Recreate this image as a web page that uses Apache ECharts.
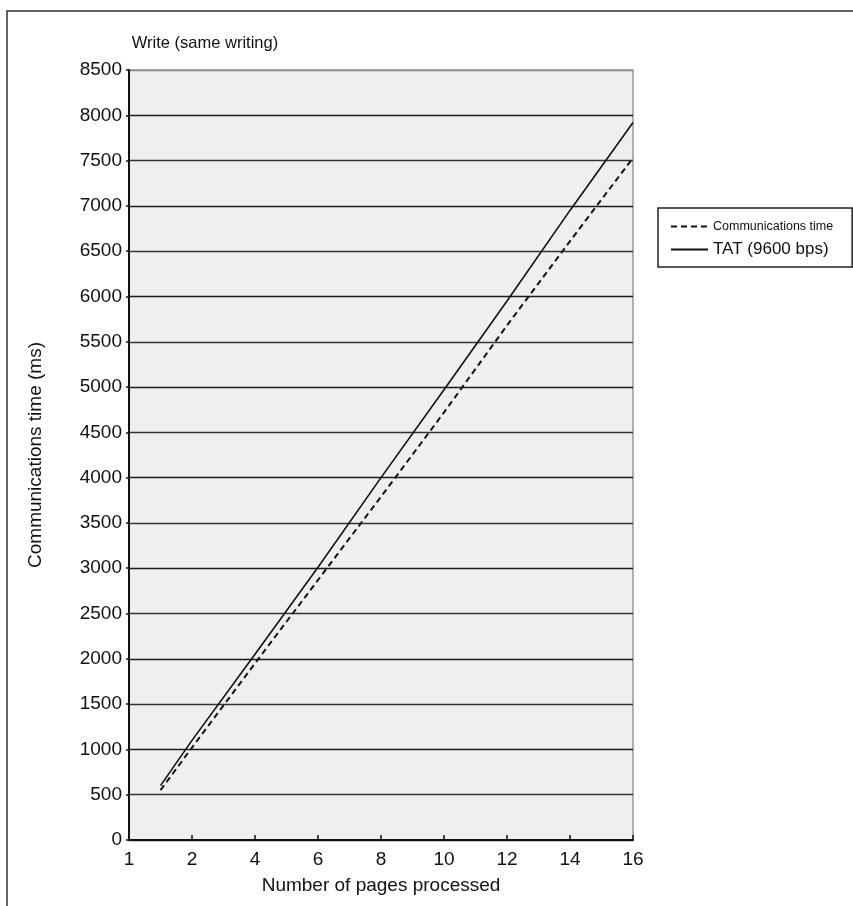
<!DOCTYPE html>
<html>
<head>
<meta charset="utf-8">
<script src="https://cdn.jsdelivr.net/npm/echarts@6/dist/echarts.min.js"></script>
<style>
html,body{margin:0;padding:0;background:#fff;}
#chart{width:853px;height:906px;}
</style>
</head>
<body>
<div id="chart"></div>
<script>
// Data
var pages = [1, 2, 4, 6, 8, 10, 12, 14, 16];
var commTime = [550, 1020, 1950, 2870, 3790, 4720, 5680, 6610, 7530];
var tatTime = [600, 1100, 2050, 3010, 4000, 4970, 5950, 6950, 7920];
var xTickLabels = ['1', '2', '4', '6', '8', '10', '12', '14', '16'];
var seriesNames = ['Communications time', 'TAT (9600 bps)'];

var FONT = '"Liberation Sans", Arial, sans-serif';

var splitColors = [];
for (var i = 0; i < 18; i++) splitColors.push(i === 17 ? '#8a8a8a' : (i % 2 ? '#333' : '#1a1a1a'));

var chart = echarts.init(document.getElementById('chart'), null, {renderer: 'canvas'});
chart.setOption({
  animation: false,
  backgroundColor: '#fff',
  title: {
    text: 'Write (same writing)',
    left: 200, top: 30, textAlign: 'center',
    textStyle: {fontFamily: FONT, fontSize: 16.5, fontWeight: 'normal', color: '#111'}
  },
  graphic: [{
    type: 'rect', silent: true, z: -1,
    shape: {x: 7, y: 11, width: 1000, height: 1000},
    style: {fill: null, stroke: '#333', lineWidth: 1.5}
  }],
  legend: {
    orient: 'vertical', left: 658, top: 208,
    padding: [12, 19, 9, 12], itemGap: 8,
    itemWidth: 37, itemHeight: 14,
    borderColor: '#222', borderWidth: 1.5, borderRadius: 0,
    backgroundColor: '#fff',
    itemStyle: {opacity: 0},
    data: [{name: seriesNames[0]}, {name: seriesNames[1]}],
    formatter: function (n) { return n === seriesNames[0] ? '{a|' + n + '}' : '{b|' + n + '}'; },
    textStyle: {
      color: '#111',
      rich: {
        a: {fontFamily: FONT, fontSize: 12.5, color: '#111'},
        b: {fontFamily: FONT, fontSize: 17, color: '#111'}
      }
    }
  },
  grid: {
    left: 129, right: 220, top: 70, bottom: 66,
    show: true, backgroundColor: '#efefef', borderColor: '#999', borderWidth: 1.5
  },
  xAxis: {
    type: 'value', min: 0, max: 16, interval: 2,
    name: 'Number of pages processed', nameLocation: 'middle', nameGap: 36,
    nameTextStyle: {fontFamily: FONT, fontSize: 19, color: '#111'},
    axisLine: {show: true, onZero: false, lineStyle: {color: '#111', width: 2}},
    axisTick: {show: true, inside: true, length: 5, lineStyle: {color: '#111', width: 1.5}},
    axisLabel: {
      fontFamily: FONT, fontSize: 19, color: '#111', margin: 10,
      formatter: function (v) { return xTickLabels[Math.round(v / 2)]; }
    },
    splitLine: {show: false}
  },
  yAxis: {
    type: 'value', min: 0, max: 8500, interval: 500,
    name: 'Communications time (ms)', nameLocation: 'middle', nameGap: 84, nameRotate: 90,
    nameTextStyle: {fontFamily: FONT, fontSize: 19, color: '#111'},
    axisLine: {show: true, lineStyle: {color: '#111', width: 2}},
    axisTick: {show: true, length: 3, lineStyle: {color: '#111', width: 1.5}},
    axisLabel: {fontFamily: FONT, fontSize: 19, color: '#111', margin: 7,
      formatter: function (v) { return String(v); }},
    splitLine: {show: true, lineStyle: {color: splitColors, width: 1.3}}
  },
  series: [{
    name: seriesNames[0], type: 'line',
    data: pages.map(function (p, i) { return [p, commTime[i]]; }),
    showSymbol: false, symbol: 'none',
    lineStyle: {color: '#111', width: 2, type: [6, 4]},
    itemStyle: {color: '#111'}
  }, {
    name: seriesNames[1], type: 'line',
    data: pages.map(function (p, i) { return [p, tatTime[i]]; }),
    showSymbol: false, symbol: 'none',
    lineStyle: {color: '#111', width: 1.6, type: 'solid'},
    itemStyle: {color: '#111'}
  }]
});
</script>
</body>
</html>
